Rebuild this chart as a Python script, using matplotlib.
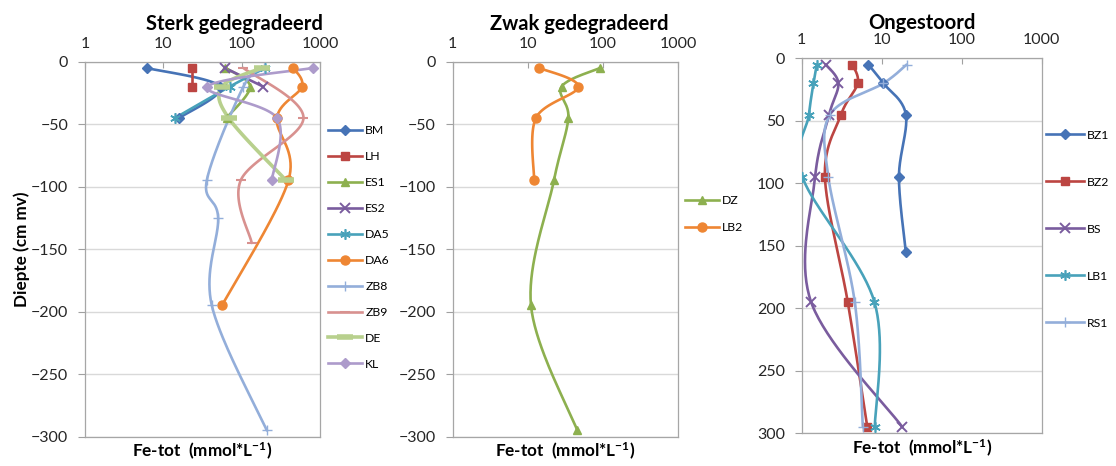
import numpy as np
import matplotlib.pyplot as plt
from matplotlib.lines import Line2D

plt.rcParams['font.family'] = ['Lato', 'DejaVu Sans']
plt.rcParams['mathtext.fontset'] = 'custom'
plt.rcParams['mathtext.bf'] = 'Lato:bold'
plt.rcParams['mathtext.rm'] = 'Lato'

# ---- data (Fe-tot in mmol/L, depth in cm below surface) ----
# Sterk gedegradeerd
bm_d = [-5, -20, -45]
bm_fe = [6.1, 53, 16]
lh_d = [-5, -20]
lh_fe = [23.5, 23.5]
es1_d = [-5, -20, -45]
es1_fe = [62, 128, 64]
es2_d = [-5, -20]
es2_fe = [61, 189]
da5_d = [-5, -20, -45]
da5_fe = [199, 70, 14.1]
da6_d = [-5, -20, -45, -95, -195]
da6_fe = [457, 586, 281, 395, 56]
zb8_d = [-5, -20, -95, -125, -195, -295]
zb8_fe = [190, 105, 35.8, 50, 41.5, 209]
zb9_d = [-5, -45, -95, -145]
zb9_fe = [105, 614, 97, 134]
de_d = [-5, -20, -45, -95]
de_fe = [180, 56, 68, 369]
kl_d = [-5, -20, -45, -95]
kl_fe = [809, 36.5, 281, 242]

# Zwak gedegradeerd
dz_d = [-5, -20, -45, -95, -195, -295]
dz_fe = [91, 28, 34.5, 22.2, 11.0, 45.4]
lb2_d = [-5, -20, -45, -95]
lb2_fe = [14.2, 46.8, 12.8, 12.1]

# Ongestoord (depth positive, axis reversed)
bz1_d = [5, 20, 45, 95, 155]
bz1_fe = [6.8, 10.5, 20, 16.4, 20]
bz2_d = [5, 20, 45, 95, 195, 295]
bz2_fe = [4.3, 5.0, 3.1, 1.95, 3.76, 6.6]
bs_d = [5, 20, 45, 95, 195, 295]
bs_fe = [2.0, 2.87, 2.2, 1.47, 1.31, 18.1]
lb1_d = [5, 20, 45, 95, 195, 295]
lb1_fe = [1.54, 1.40, 1.23, 1.02, 8.1, 8.2]
rs1_d = [5, 20, 45, 95, 195, 295]
rs1_fe = [20.5, 10.5, 2.26, 2.15, 4.6, 5.8]

xticks = [1, 10, 100, 1000]
yticks_neg = [0, -50, -100, -150, -200, -250, -300]
yticks_pos = [0, 50, 100, 150, 200, 250, 300]

# colours
c_blue = '#4673B6'
c_red = '#BC4542'
c_green = '#8DB04F'
c_purple = '#7A5C9E'
c_teal = '#48A2BA'
c_orange = '#EE8633'
c_lblue = '#93AEDA'
c_pink = '#D8918F'
c_lgreen = '#B8D08D'
c_lpurple = '#AD9BCB'

STAR = (6, 2, 0)
FS = 11.5


def smooth(fe, d, n=40):
    # bezier smoothing like excel, done in log-x space
    pts = np.column_stack([np.log10(fe), d]).astype(float)
    if len(pts) < 3:
        return np.asarray(fe, float), np.asarray(d, float)
    P = np.vstack([pts[0], pts, pts[-1]])
    segs = []
    t = np.linspace(0, 1, n)[:, None]
    for i in range(1, len(P) - 2):
        p0, p1, p2, p3 = P[i - 1], P[i], P[i + 1], P[i + 2]
        c1 = p1 + (p2 - p0) / 6
        c2 = p2 - (p3 - p1) / 6
        seg = (1 - t) ** 3 * p1 + 3 * (1 - t) ** 2 * t * c1 + 3 * (1 - t) * t ** 2 * c2 + t ** 3 * p2
        segs.append(seg)
    s = np.vstack(segs)
    return 10 ** s[:, 0], s[:, 1]


def plot_serie(ax, fe, d, color, marker, ms=5.5, lw=1.9, mew=1.0):
    xs, ys = smooth(fe, d)
    ax.plot(xs, ys, color=color, lw=lw, solid_capstyle='round', zorder=3)
    ax.plot(fe, d, ls='none', marker=marker, color=color, ms=ms, mew=mew, zorder=4)
    return Line2D([], [], color=color, lw=lw, marker=marker, ms=ms, mew=mew)


def style_ax(ax, neg=True):
    ax.set_xscale('log')
    ax.set_xlim(1, 1000)
    ax.xaxis.tick_top()
    ax.set_xticks(xticks)
    ax.set_xticklabels(['1', '10', '100', '1000'])
    ax.minorticks_off()
    ax.tick_params(axis='x', direction='in', length=4, color='#A0A0A0', pad=8,
                   labelsize=FS, labelcolor='#262626')
    if neg:
        ax.set_ylim(-300, 0)
        ax.set_yticks(yticks_neg)
    else:
        ax.set_ylim(300, 0)
        ax.set_yticks(yticks_pos)
    ax.tick_params(axis='y', direction='out', length=5, color='#A0A0A0', pad=7,
                   labelsize=FS, labelcolor='#262626')
    ax.yaxis.grid(True, color='#D9D9D9', lw=1)
    ax.set_axisbelow(True)
    for sp in ax.spines.values():
        sp.set_color('#A6A6A6')
        sp.set_linewidth(0.9)
    ax.set_xlabel('Fe-tot  (mmol*L$\\mathbf{^{-1}}$)', fontsize=12.3, fontweight='bold', labelpad=3)


fig = plt.figure(figsize=(11.16, 4.66), dpi=100)
ax1 = fig.add_axes([0.0762, 0.0629, 0.2106, 0.8047])
ax2 = fig.add_axes([0.4056, 0.0629, 0.2022, 0.8047])
ax3 = fig.add_axes([0.7184, 0.0702, 0.2151, 0.8047])

leg_kw = dict(loc='upper left', frameon=False, borderpad=0, borderaxespad=0,
              handletextpad=0.25, fontsize=8.8)

# panel 1
h = []
h.append(plot_serie(ax1, bm_fe, bm_d, c_blue, 'D', ms=5))
h.append(plot_serie(ax1, lh_fe, lh_d, c_red, 's', ms=6))
h.append(plot_serie(ax1, es1_fe, es1_d, c_green, '^', ms=6))
h.append(plot_serie(ax1, es2_fe, es2_d, c_purple, 'x', ms=6.5, mew=1.4))
h.append(plot_serie(ax1, da5_fe, da5_d, c_teal, STAR, ms=7.5, mew=1.2))
h.append(plot_serie(ax1, da6_fe, da6_d, c_orange, 'o', ms=6.5))
h.append(plot_serie(ax1, zb8_fe, zb8_d, c_lblue, '+', ms=7.5, mew=1.0))
h.append(plot_serie(ax1, zb9_fe, zb9_d, c_pink, '_', ms=7, mew=1.5))
h.append(plot_serie(ax1, de_fe, de_d, c_lgreen, '_', ms=11, lw=2.6, mew=4))
h.append(plot_serie(ax1, kl_fe, kl_d, c_lpurple, 'D', ms=5))
style_ax(ax1)
ax1.set_title('Sterk gedegradeerd', fontsize=14.5, fontweight='bold', pad=5, x=0.637)
ax1.set_ylabel('Diepte (cm mv)', fontsize=12.3, fontweight='bold', labelpad=1)
ax1.legend(h, ['BM', 'LH', 'ES1', 'ES2', 'DA5', 'DA6', 'ZB8', 'ZB9', 'DE', 'KL'],
           bbox_to_anchor=(1.034, 0.83), handlelength=2.8, labelspacing=1.22, **leg_kw)

# panel 2
h2 = []
h2.append(plot_serie(ax2, dz_fe, dz_d, c_green, '^', ms=6))
h2.append(plot_serie(ax2, lb2_fe, lb2_d, c_orange, 'o', ms=6.5))
style_ax(ax2)
ax2.set_title('Zwak gedegradeerd', fontsize=14.5, fontweight='bold', pad=5, x=0.562)
ax2.legend(h2, ['DZ', 'LB2'], bbox_to_anchor=(1.03, 0.645), handlelength=2.8,
           labelspacing=1.35, **leg_kw)

# panel 3
h3 = []
h3.append(plot_serie(ax3, bz1_fe, bz1_d, c_blue, 'D', ms=5))
h3.append(plot_serie(ax3, bz2_fe, bz2_d, c_red, 's', ms=6))
h3.append(plot_serie(ax3, bs_fe, bs_d, c_purple, 'x', ms=6.5, mew=1.4))
h3.append(plot_serie(ax3, lb1_fe, lb1_d, c_teal, STAR, ms=7.5, mew=1.2))
h3.append(plot_serie(ax3, rs1_fe, rs1_d, c_lblue, '+', ms=7.5, mew=1.0))
style_ax(ax3, neg=False)
ax3.set_title('Ongestoord', fontsize=14.5, fontweight='bold', pad=3)
ax3.legend(h3, ['BZ1', 'BZ2', 'BS', 'LB1', 'RS1'], bbox_to_anchor=(1.018, 0.81),
           handlelength=3.1, labelspacing=2.95, **leg_kw)

fig.savefig('out.png', dpi=100)
